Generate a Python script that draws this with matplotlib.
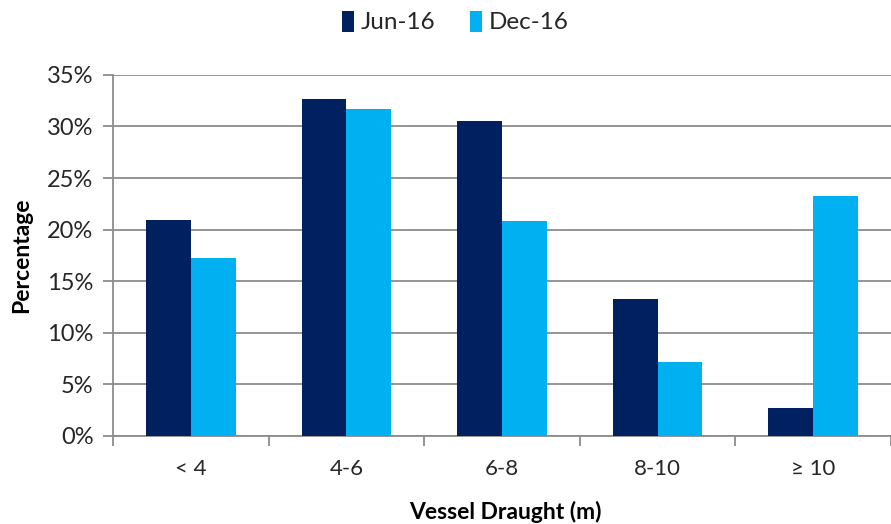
import numpy as np
import matplotlib.pyplot as plt
from matplotlib.ticker import FuncFormatter

plt.rcParams['font.family'] = ['Lato', 'DejaVu Sans']

categories = ['< 4', '4-6', '6-8', '8-10', '≥ 10']
jun16 = [20.95, 32.7, 30.5, 13.3, 2.65]
dec16 = [17.25, 31.7, 20.8, 7.15, 23.3]

navy = '#002060'
cyan = '#00B0F0'
grid_grey = '#8c8c8c'
text_col = '#262626'

fig = plt.figure(figsize=(8.91, 5.24), dpi=100)
ax = fig.add_axes([113/891, 0.1685, 1 - 113/891, 0.857 - 0.1685])

x = np.arange(len(categories))
w = 0.288
ax.bar(x - w/2, jun16, w, color=navy, label='Jun-16', zorder=3)
ax.bar(x + w/2, dec16, w, color=cyan, label='Dec-16', zorder=3)

ax.set_ylim(0, 35)
ax.set_xlim(-0.5, 4.444)
ax.set_yticks(np.arange(0, 36, 5))
ax.yaxis.set_major_formatter(FuncFormatter(lambda v, p: '%d%%' % v))
ax.yaxis.grid(True, color=grid_grey, linewidth=1.3, zorder=0)

# category labels centred, tick marks on the group boundaries
ax.set_xticks(x)
ax.set_xticklabels(categories)
ax.set_xticks(np.arange(-0.5, 5, 1), minor=True)
ax.tick_params(axis='x', which='major', length=0, pad=17, labelsize=16, labelcolor=text_col)
ax.tick_params(axis='x', which='minor', length=7, color=grid_grey, width=1.3)
ax.tick_params(axis='y', length=7, color=grid_grey, width=1.3, pad=7, labelsize=17, labelcolor=text_col)

for s in ['top', 'right']:
    ax.spines[s].set_visible(False)
for s in ['left', 'bottom']:
    ax.spines[s].set_color(grid_grey)
    ax.spines[s].set_linewidth(1.3)

ax.set_ylabel('Percentage', fontsize=16.5, fontweight='bold', color='black')
ax.set_xlabel('Vessel Draught (m)', fontsize=16.5, fontweight='bold', color='black')
ax.yaxis.set_label_coords(-0.104, 0.5)
ax.xaxis.set_label_coords(0.504, -0.18)

fig.legend(loc='center', bbox_to_anchor=(0.511, 0.958), ncol=2, frameon=False,
           fontsize=17.5, handlelength=0.5, handleheight=0.95, handletextpad=0.3,
           columnspacing=1.4, labelcolor=text_col)

fig.savefig('out.png', dpi=100)
